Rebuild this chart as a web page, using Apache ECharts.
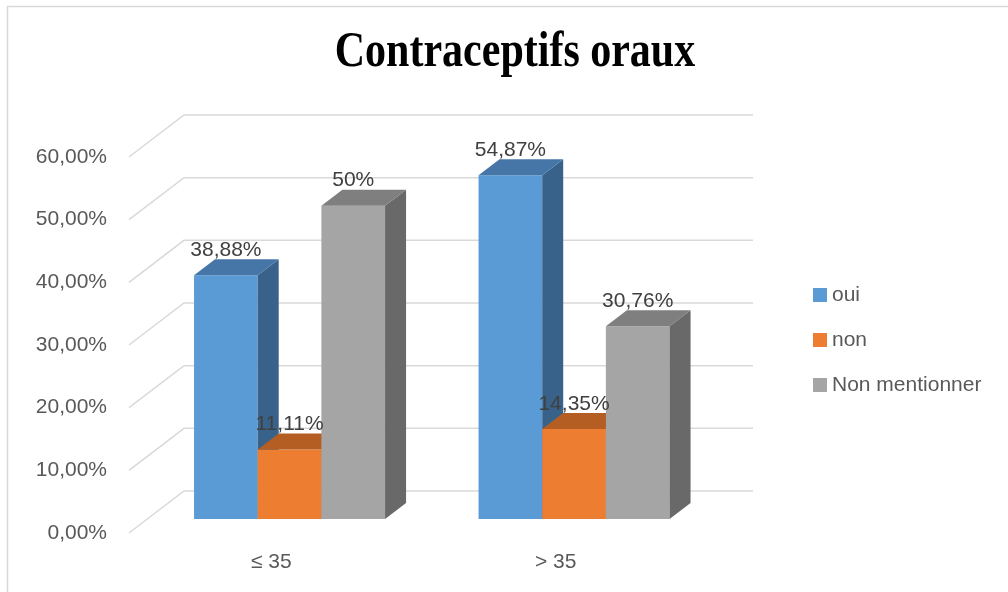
<!DOCTYPE html>
<html>
<head>
<meta charset="utf-8">
<script src="https://cdn.jsdelivr.net/npm/echarts@6/dist/echarts.min.js"></script>
<style>html,body{margin:0;padding:0;background:#fff;}#c{width:1008px;height:592px;}</style>
</head>
<body>
<div id="c"></div>
<script>
const categories = ['≤ 35', '> 35'];
const seriesNames = ['oui', 'non', 'Non mentionner'];
const oui = [38.88, 54.87];
const non = [11.11, 14.35];
const nonMentionner = [50, 30.76];
const yTicks = [0, 10, 20, 30, 40, 50, 60];

const FONT = 'Liberation Sans';
const faceColors = [
  { front: '#5B9BD5', top: '#4676A8', side: '#38628A' },
  { front: '#ED7D31', top: '#B45E23', side: '#A3521C' },
  { front: '#A5A5A5', top: '#7F7F7F', side: '#696969' }
];
// 3D geometry (pixels)
const WALL_DX = 55, WALL_DY = -42;   // back wall offset
const BAR_SX = 18.3, BAR_SY = -14;   // bar front plane offset
const DEPTH_DX = 21, DEPTH_DY = -16; // bar depth

function fmtLabel(v) {
  let s = v.toFixed(2);
  if (s.endsWith('.00')) s = s.slice(0, -3);
  return s.replace('.', ',') + '%';
}

function barRenderer(idx) {
  return function (params, api) {
    const cat = api.value(0), val = api.value(1);
    const base = api.coord([cat, 0]);
    const top = api.coord([cat, val]);
    const band = api.size([1, 0])[0];
    const bw = band * 0.2238;
    const x0 = base[0] - 1.5 * bw + idx * bw + BAR_SX;
    const yb = base[1] + BAR_SY;
    const yt = top[1] + BAR_SY;
    const c = faceColors[idx];
    return {
      type: 'group',
      children: [
        { type: 'rect', z2: 10 + idx * 3, shape: { x: x0, y: yt, width: bw, height: yb - yt }, style: { fill: c.front } },
        { type: 'polygon', z2: 11 + idx * 3, shape: { points: [[x0 + bw, yt], [x0 + bw + DEPTH_DX, yt + DEPTH_DY], [x0 + bw + DEPTH_DX, yb + DEPTH_DY], [x0 + bw, yb]] }, style: { fill: c.side } },
        { type: 'polygon', z2: 12 + idx * 3, shape: { points: [[x0, yt], [x0 + DEPTH_DX, yt + DEPTH_DY], [x0 + bw + DEPTH_DX, yt + DEPTH_DY], [x0 + bw, yt]] }, style: { fill: c.top } },
        { type: 'text', z2: 100, x: x0 + bw / 2, y: yt - 25, style: { text: fmtLabel(val), fill: '#404040', font: '21px "' + FONT + '"', align: 'center', verticalAlign: 'middle' } }
      ]
    };
  };
}

function wallRenderer(params, api) {
  const v = api.value(1);
  const y = api.coord([0, v])[1];
  const left = params.coordSys.x;
  const right = params.coordSys.x + params.coordSys.width;
  return {
    type: 'polyline',
    shape: { points: [[left, y], [left + WALL_DX, y + WALL_DY], [right + WALL_DX, y + WALL_DY]] },
    style: { stroke: '#D9D9D9', lineWidth: 1.5, fill: null }
  };
}

const seriesData = [oui, non, nonMentionner];
const chart = echarts.init(document.getElementById('c'));
chart.setOption({
  animation: false,
  backgroundColor: '#fff',
  graphic: [
    { type: 'rect', shape: { x: 7.5, y: 6.5, width: 1100, height: 700 }, style: { fill: null, stroke: '#D9D9D9', lineWidth: 1.5 }, silent: true },
    { type: 'text', x: 515, y: 53, scaleY: 1.22, style: { text: 'Contraceptifs oraux', font: 'bold 42px "Liberation Serif"', fill: '#000', align: 'center', verticalAlign: 'middle', shadowColor: 'rgba(0,0,0,0.5)', shadowBlur: 4, shadowOffsetX: 2, shadowOffsetY: 2 } }
  ],
  legend: {
    orient: 'vertical',
    left: 808,
    top: 279,
    itemWidth: 14,
    itemHeight: 14,
    itemGap: 23,
    icon: 'rect',
    data: seriesNames,
    textStyle: { color: '#595959', fontSize: 21, fontFamily: FONT, lineHeight: 22 }
  },
  grid: { left: 129, right: 310, top: 157, bottom: 59 },
  xAxis: {
    type: 'category',
    data: categories,
    axisLine: { show: false },
    axisTick: { show: false },
    axisLabel: { color: '#595959', fontSize: 21, fontFamily: FONT, margin: 19 }
  },
  yAxis: {
    type: 'value',
    min: 0,
    max: 60,
    interval: 10,
    axisLine: { show: false },
    axisTick: { show: false },
    splitLine: { show: false },
    axisLabel: { color: '#595959', fontSize: 21, fontFamily: FONT, margin: 22, formatter: v => v.toFixed(2).replace('.', ',') + '%' }
  },
  series: [
    { type: 'custom', name: 'walls', z: 1, silent: true, renderItem: wallRenderer, data: yTicks.map(v => [0, v]) }
  ].concat(seriesNames.map((name, i) => ({
    type: 'custom',
    name: name,
    z: 2,
    itemStyle: { color: faceColors[i].front },
    renderItem: barRenderer(i),
    data: seriesData[i].map((v, k) => [k, v])
  })))
});
</script>
</body>
</html>
